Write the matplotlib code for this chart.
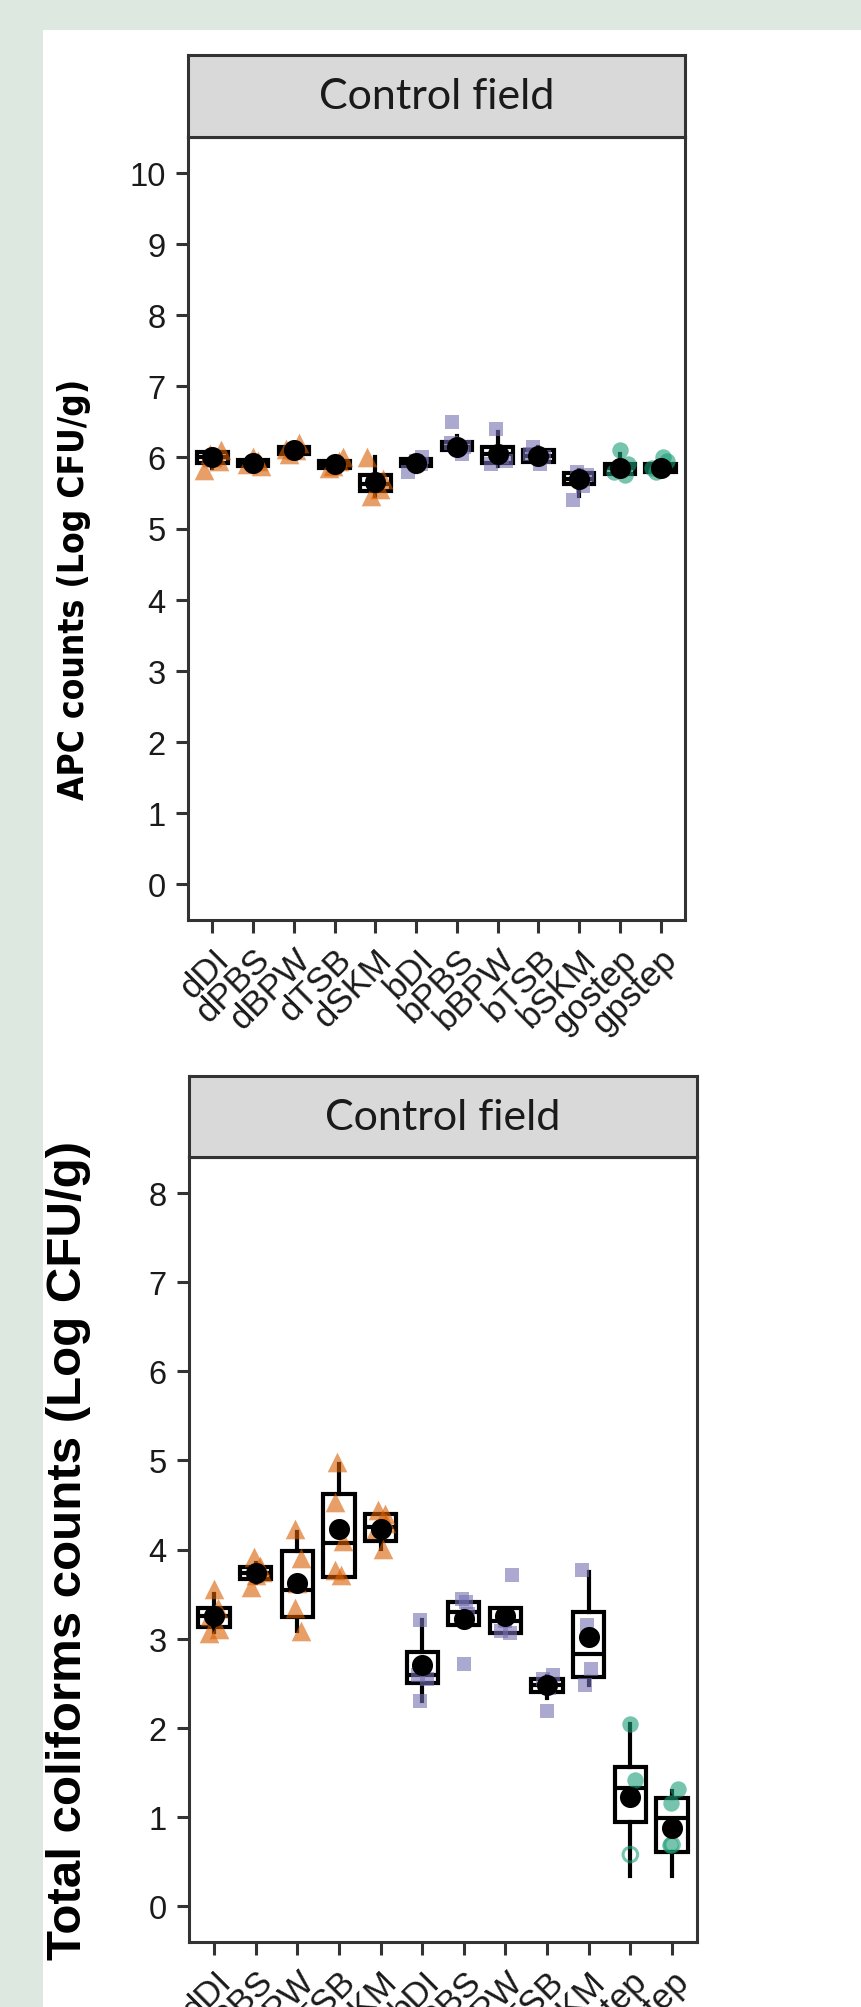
import os
import matplotlib
matplotlib.use("Agg")
import matplotlib.pyplot as plt
from matplotlib import font_manager
from matplotlib.font_manager import FontProperties
from matplotlib.patches import Rectangle
import numpy as np

# sample groups (x categories)
groups = ['dDI', 'dPBS', 'dBPW', 'dTSB', 'dSKM', 'bDI', 'bPBS', 'bBPW',
          'bTSB', 'bSKM', 'gostep', 'gpstep']
kind = ['d'] * 5 + ['b'] * 5 + ['g'] * 2

# APC counts (Log CFU/g) - box stats
apc_q1 = [5.92, 5.88, 6.05, 5.85, 5.52, 5.88, 6.10, 5.92, 5.93, 5.63, 5.76, 5.80]
apc_med = [6.00, 5.92, 6.10, 5.90, 5.62, 5.92, 6.15, 6.05, 6.02, 5.70, 5.85, 5.85]
apc_q3 = [6.08, 5.96, 6.15, 5.95, 5.75, 5.97, 6.22, 6.15, 6.10, 5.78, 5.90, 5.90]
apc_lo = [5.85, 5.85, 6.02, 5.82, 5.45, 5.80, 6.05, 5.88, 5.90, 5.45, 5.75, 5.78]
apc_hi = [6.10, 5.98, 6.20, 6.00, 6.00, 6.00, 6.30, 6.35, 6.15, 5.82, 6.05, 5.95]
apc_mean = [6.00, 5.92, 6.10, 5.90, 5.65, 5.92, 6.15, 6.05, 6.02, 5.70, 5.85, 5.85]
apc_points = [
    [5.82, 5.95, 6.05, 6.10, 6.00],
    [5.90, 5.95, 6.00, 5.88],
    [6.05, 6.10, 6.20, 6.12],
    [5.85, 5.95, 6.00, 5.88],
    [5.45, 5.55, 5.70, 6.00],
    [5.80, 5.90, 5.95, 6.00],
    [6.50, 6.05, 6.15, 6.20],
    [6.40, 6.00, 5.90, 5.95],
    [6.15, 5.90, 6.00, 6.05],
    [5.40, 5.60, 5.75, 5.80],
    [6.10, 5.80, 5.75, 5.90],
    [5.80, 5.95, 6.00, 5.85],
]
apc_jitter = [
    [-0.2, 0.15, -0.05, 0.2, 0.0],
    [-0.15, 0.12, 0.0, 0.2],
    [-0.12, 0.05, 0.12, -0.2],
    [-0.15, 0.1, 0.2, -0.05],
    [-0.12, 0.12, 0.18, -0.2],
    [-0.2, 0.12, 0.0, 0.15],
    [-0.12, 0.12, 0.18, -0.15],
    [-0.05, 0.12, -0.15, 0.2],
    [-0.12, 0.05, 0.15, -0.2],
    [-0.15, 0.1, 0.2, -0.05],
    [0.0, -0.15, 0.12, 0.2],
    [-0.12, 0.15, 0.05, -0.2],
]
apc_open = [None] * 12

# Total coliforms counts (Log CFU/g)
tc_q1 = [3.13, 3.67, 3.24, 3.69, 4.09, 2.50, 3.15, 3.06, 2.40, 2.57, 0.95, 0.61]
tc_med = [3.26, 3.74, 3.55, 4.07, 4.25, 2.59, 3.30, 3.20, 2.48, 2.83, 1.33, 0.99]
tc_q3 = [3.34, 3.80, 3.98, 4.62, 4.40, 2.85, 3.41, 3.34, 2.55, 3.30, 1.56, 1.21]
tc_lo = [3.07, 3.62, 3.09, 3.69, 4.01, 2.30, 3.15, 3.06, 2.33, 2.48, 0.34, 0.34]
tc_hi = [3.50, 3.85, 4.20, 4.96, 4.40, 3.21, 3.41, 3.34, 2.58, 3.75, 2.04, 1.29]
tc_mean = [3.26, 3.74, 3.62, 4.23, 4.23, 2.70, 3.22, 3.26, 2.48, 3.02, 1.23, 0.88]
tc_points = [
    [3.56, 3.34, 3.26, 3.06, 3.11],
    [3.92, 3.82, 3.75, 3.58, 3.71],
    [4.23, 3.90, 3.34, 3.09, 3.62],
    [4.98, 4.53, 3.77, 3.71, 4.10],
    [4.44, 4.40, 4.01, 4.23, 4.30],
    [3.21, 2.59, 2.30, 2.55],
    [3.45, 3.41, 2.72, 3.28],
    [3.71, 3.09, 3.06, 3.20],
    [2.59, 2.55, 2.19, 2.45],
    [3.77, 3.15, 2.66, 2.48],
    [2.04, 1.42, 1.21],
    [1.31, 1.16, 0.69],
]
tc_jitter = [
    [0.0, 0.1, -0.1, -0.12, 0.12],
    [-0.05, 0.1, 0.15, -0.12, 0.0],
    [-0.05, 0.1, -0.05, 0.1, 0.0],
    [-0.05, -0.1, -0.1, 0.05, 0.1],
    [-0.05, 0.1, 0.05, -0.1, 0.12],
    [-0.05, -0.1, -0.05, 0.12],
    [-0.05, 0.05, 0.0, 0.1],
    [0.15, -0.1, 0.1, 0.0],
    [0.15, -0.1, 0.0, 0.05],
    [-0.15, -0.05, 0.05, -0.1],
    [0.0, 0.1, 0.0],
    [0.15, -0.02, -0.05],
]
tc_open = [None] * 10 + [0.58, 0.69]

colors = {'d': '#D95F02', 'b': '#7570B3', 'g': '#1B9E77'}
markers = {'d': '^', 'b': 's', 'g': 'o'}
msize = {'d': 200, 'b': 90, 'g': 140}

W, H = 862, 2008
fig = plt.figure(figsize=(W / 100, H / 100), dpi=100)
fig.patch.set_facecolor('#dde9e0')
fig.patches.append(Rectangle((43 / W, 0), 1 - 43 / W, 1 - 31 / H,
                             transform=fig.transFigure, facecolor='white',
                             edgecolor='none', zorder=-10))

tick_font = 'Liberation Sans'
dark = '#333333'


def condensed_bold_path():
    # the upper y label is set in a condensed bold sans in the original
    found = []
    for f in font_manager.fontManager.ttflist:
        nm = f.name + ' ' + os.path.basename(f.fname)
        if f.style != 'normal' or any(s in nm for s in ('Mono', 'Serif', 'Italic')):
            continue
        w = f.weight if isinstance(f.weight, int) else \
            font_manager.weight_dict.get(f.weight, 400)
        if w != 700:
            continue
        if 'Narrow' in nm or ('Condensed' in nm and
                              not any(s in nm for s in ('Semi', 'Extra', 'Ultra'))):
            rank = 0 if 'Liberation' in nm else 1 if 'Noto Sans' in nm else 2
            found.append((rank, f.fname))
    found.sort()
    return found[0][1] if found else None


cpath = condensed_bold_path()
if cpath:
    top_label_fp = FontProperties(fname=cpath)
else:
    top_label_fp = FontProperties(family=tick_font, weight='bold')
bottom_label_fp = FontProperties(family=tick_font, weight='bold')


def px_rect(left, top, right, bottom):
    return [left / W, 1 - bottom / H, (right - left) / W, (bottom - top) / H]


def draw_panel(box, strip, q1, med, q3, lo, hi, mean, points, jitter, opens,
               ylim, yticks, ylabel, label_fp, label_size, label_y):
    ax = fig.add_axes(px_rect(*box))
    ax.set_facecolor('white')
    pos = np.arange(1, len(groups) + 1)

    stats = []
    for i in range(len(groups)):
        stats.append({'q1': q1[i], 'med': med[i], 'q3': q3[i],
                      'whislo': lo[i], 'whishi': hi[i], 'fliers': []})
    ax.bxp(stats, positions=pos, widths=0.75, showcaps=False,
           showfliers=False, patch_artist=True,
           boxprops=dict(facecolor='white', edgecolor='black', linewidth=3),
           medianprops=dict(color='black', linewidth=3),
           whiskerprops=dict(color='black', linewidth=3))

    for i, g in enumerate(groups):
        k = kind[i]
        xs = pos[i] + np.array(jitter[i])
        ax.scatter(xs, points[i], marker=markers[k], s=msize[k],
                   color=colors[k], alpha=0.6, linewidths=0, zorder=3)
        if opens[i] is not None:
            ax.scatter([pos[i]], [opens[i]], marker='o', s=110,
                       facecolors='none', edgecolors=colors[k], alpha=0.6,
                       linewidths=2.2, zorder=3)

    ax.scatter(pos, mean, s=230, color='black', zorder=4, linewidths=0)

    ax.set_xlim(0.4, len(groups) + 0.6)
    ax.set_ylim(*ylim)
    ax.set_yticks(yticks)
    ax.set_yticklabels([str(t) for t in yticks], fontsize=23.5,
                       family=tick_font, color='#1a1a1a')
    ax.set_xticks(pos)
    ax.set_xticklabels(groups, rotation=45, ha='right', va='top',
                       rotation_mode='anchor', fontsize=25,
                       family=tick_font, color='#1a1a1a')
    ax.tick_params(axis='both', length=9, width=2.2, color=dark, pad=7)
    for sp in ax.spines.values():
        sp.set_color(dark)
        sp.set_linewidth(2.2)
    lbl = ax.set_ylabel(ylabel, fontproperties=label_fp, color='black')
    lbl.set_fontsize(label_size)
    ax.yaxis.set_label_coords((91 - box[0]) / (box[2] - box[0]), label_y)

    st = fig.add_axes(px_rect(*strip))
    st.set_facecolor('#d9d9d9')
    st.set_xticks([])
    st.set_yticks([])
    for sp in st.spines.values():
        sp.set_color(dark)
        sp.set_linewidth(2.2)
    st.text(0.5, 0.5, 'Control field', ha='center', va='center',
            fontsize=31, family='Lato', color='#1a1a1a',
            transform=st.transAxes)
    return ax, lbl


ax1, lbl1 = draw_panel((188, 138, 685, 921), (188, 56, 685, 138),
                       apc_q1, apc_med, apc_q3, apc_lo, apc_hi, apc_mean,
                       apc_points, apc_jitter, apc_open,
                       (-0.5, 10.5), list(range(0, 11)),
                       'APC counts (Log CFU/g)', top_label_fp, 30, 0.423)

ax2, lbl2 = draw_panel((189, 1158, 697, 1943), (189, 1077, 697, 1158),
                       tc_q1, tc_med, tc_q3, tc_lo, tc_hi, tc_mean,
                       tc_points, tc_jitter, tc_open,
                       (-0.4, 8.4), list(range(0, 9)),
                       'Total coliforms counts (Log CFU/g)', bottom_label_fp,
                       35.5, 0.5)

# size the upper label so that it spans the same length as in the original
fig.canvas.draw()
span = lbl1.get_window_extent().height
lbl1.set_fontsize(30 * 420 / span)

fig.savefig('out.png', dpi=100, facecolor=fig.get_facecolor())
